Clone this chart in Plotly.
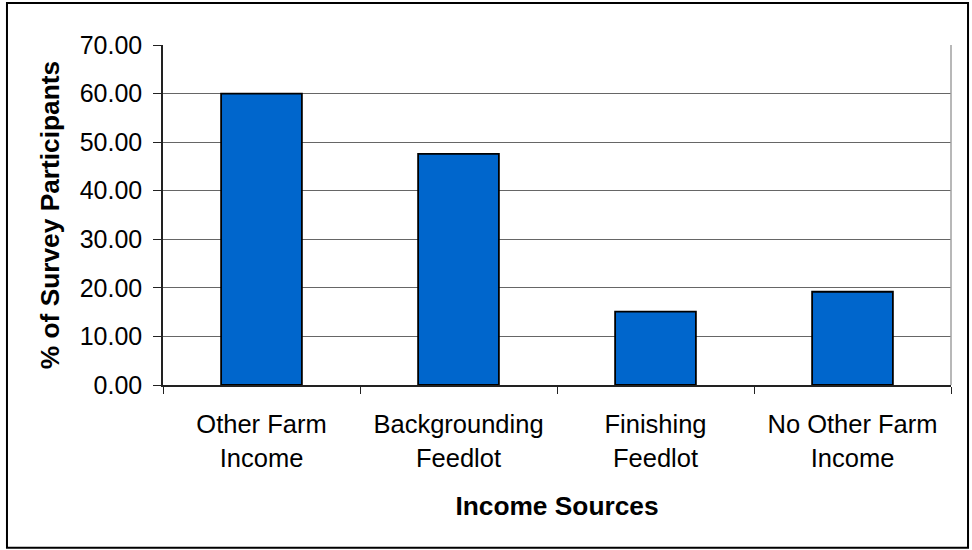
import plotly.graph_objects as go

categories = ["Other Farm<br>Income", "Backgrounding<br>Feedlot", "Finishing<br>Feedlot", "No Other Farm<br>Income"]
values = [60.0, 47.6, 15.1, 19.2]
y_ticks = [0, 10, 20, 30, 40, 50, 60, 70]
y_tick_labels = ["0.00", "10.00", "20.00", "30.00", "40.00", "50.00", "60.00", "70.00"]

FONT = "Liberation Sans, Arial, sans-serif"

fig = go.Figure()
fig.add_trace(go.Bar(
    x=categories,
    y=values,
    width=0.41,
    marker=dict(color="#0066CC", line=dict(color="#000000", width=1.8)),
))

fig.update_layout(
    width=972,
    height=550,
    margin=dict(l=163, r=21, t=45, b=165),
    paper_bgcolor="white",
    plot_bgcolor="white",
    showlegend=False,
    font=dict(family=FONT, size=25, color="black"),
    xaxis=dict(
        showline=True, linecolor="#222222", linewidth=1.5,
        ticks="outside", tickson="boundaries", ticklen=7, tickcolor="#222222", tickwidth=1.2,
        showgrid=False,
        tickfont=dict(size=25.5),
        ticklabelstandoff=16,
        title=dict(text="<b>Income Sources</b>", font=dict(size=26.3), standoff=26),
    ),
    yaxis=dict(
        range=[0, 70],
        tickvals=y_ticks,
        ticktext=y_tick_labels,
        showline=True, linecolor="#222222", linewidth=1.5,
        ticks="outside", ticklen=8, tickcolor="#222222", tickwidth=1.2,
        showgrid=True, gridcolor="#666666", gridwidth=1.2,
        zeroline=False,
        tickfont=dict(size=25),
        ticklabelstandoff=6,
        title=dict(text="<b>% of Survey Participants</b>", font=dict(size=26.3), standoff=12),
    ),
    bargap=0.59,
)

# gray right edge of the plot area
fig.add_shape(type="line", xref="paper", yref="paper", x0=1, x1=1, y0=0, y1=1,
              line=dict(color="#a0a0a0", width=1.5))
# outer chart border
fig.add_shape(type="rect", xref="paper", yref="paper",
              x0=-0.198, x1=1.0216, y0=-0.479, y1=1.1235,
              line=dict(color="#000000", width=2))

fig.write_html("out.html", config={"displayModeBar": False},
               post_script="document.body.style.margin='0';document.body.style.overflow='hidden';")
